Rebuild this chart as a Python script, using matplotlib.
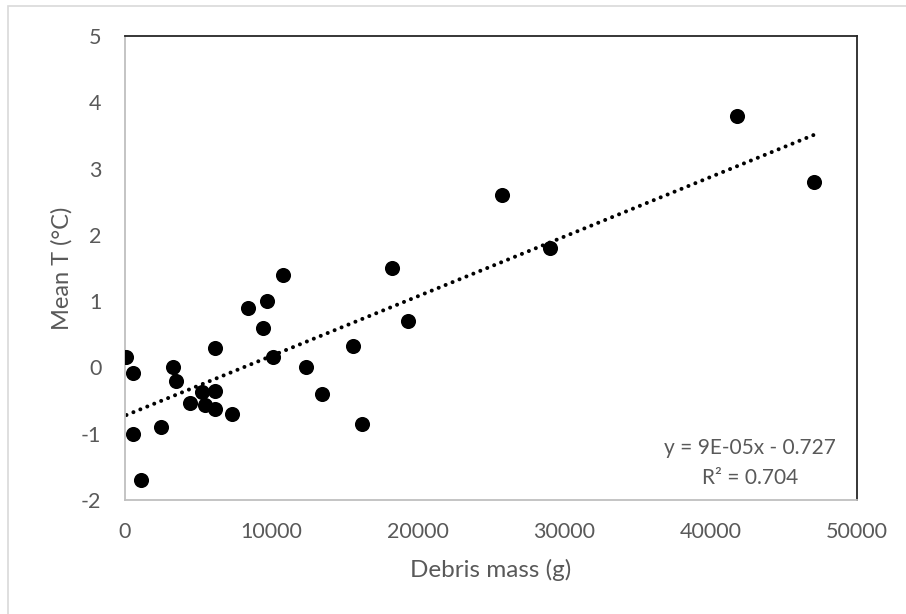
import matplotlib
matplotlib.use("Agg")
import matplotlib.pyplot as plt
import numpy as np
from matplotlib.patches import Rectangle

# Debris mass (g) and mean temperature (°C)
debris_mass = [100, 570, 570, 1090, 2440, 3260, 3480, 4440, 5240, 5460,
               6150, 6150, 6150, 7330, 8380, 9400, 9680, 10130, 10770, 12340,
               13480, 15550, 16210, 18210, 19350, 25770, 29030, 41780, 47080]
mean_t = [0.16, -0.09, -1.0, -1.7, -0.9, 0.0, -0.2, -0.53, -0.37, -0.57,
          0.3, -0.35, -0.62, -0.7, 0.9, 0.6, 1.0, 0.15, 1.4, 0.0,
          -0.4, 0.32, -0.86, 1.5, 0.7, 2.6, 1.8, 3.8, 2.8]

# Linear trendline coefficients
slope = 9e-05
intercept = -0.727
r_squared = 0.704

x_ticks = [0, 10000, 20000, 30000, 40000, 50000]
y_ticks = [-2, -1, 0, 1, 2, 3, 4, 5]

plt.rcParams['font.family'] = ['Lato', 'DejaVu Sans']
text_color = '#595959'

W, H = 906, 614
fig = plt.figure(figsize=(W / 100, H / 100), dpi=100)
ax = fig.add_axes([125 / W, 1 - 500 / H, (857 - 125) / W, (500 - 36) / H])

ax.scatter(debris_mass, mean_t, s=118, color='black', zorder=3, linewidths=0)

xs = np.array([min(debris_mass), max(debris_mass)])
ax.plot(xs, slope * xs + intercept, color='black', linewidth=2.9,
        linestyle=(0, (0.01, 1.85)), dash_capstyle='round', zorder=2)

ax.set_xlim(0, 50000)
ax.set_ylim(-2, 5)
ax.set_xticks(x_ticks)
ax.set_yticks(y_ticks)
ax.set_xticklabels([str(v) for v in x_ticks])
ax.set_yticklabels([str(v) for v in y_ticks])
ax.tick_params(axis='both', length=0, labelsize=15.5, labelcolor=text_color)
ax.tick_params(axis='x', pad=16)
ax.tick_params(axis='y', pad=17)

for side in ('left', 'bottom'):
    ax.spines[side].set_color('#bfbfbf')
    ax.spines[side].set_linewidth(1.3)
for side in ('top', 'right'):
    ax.spines[side].set_color('#262626')
    ax.spines[side].set_linewidth(1.3)

ax.set_xlabel('Debris mass (g)', fontsize=17.5, color=text_color, labelpad=12)
ax.set_ylabel('Mean T (°C)', fontsize=17, color=text_color, labelpad=6)

eq_text = f'y = {slope:.0E}x - {abs(intercept):.3f}'
ax.annotate(eq_text, xy=(750, H - 448), xycoords='figure pixels',
            fontsize=15, color=text_color, ha='center', va='center')
ax.annotate(f'R² = {r_squared:.3f}', xy=(750, H - 478), xycoords='figure pixels',
            fontsize=15, color=text_color, ha='center', va='center')

# Chart border (its right and bottom edges lie past the canvas)
fig.patches.append(Rectangle((8 / W, -10 / H), 920 / W, 618 / H,
                             transform=fig.transFigure, fill=False,
                             edgecolor='#d9d9d9', linewidth=1.2))

fig.savefig('out.png', dpi=100)
